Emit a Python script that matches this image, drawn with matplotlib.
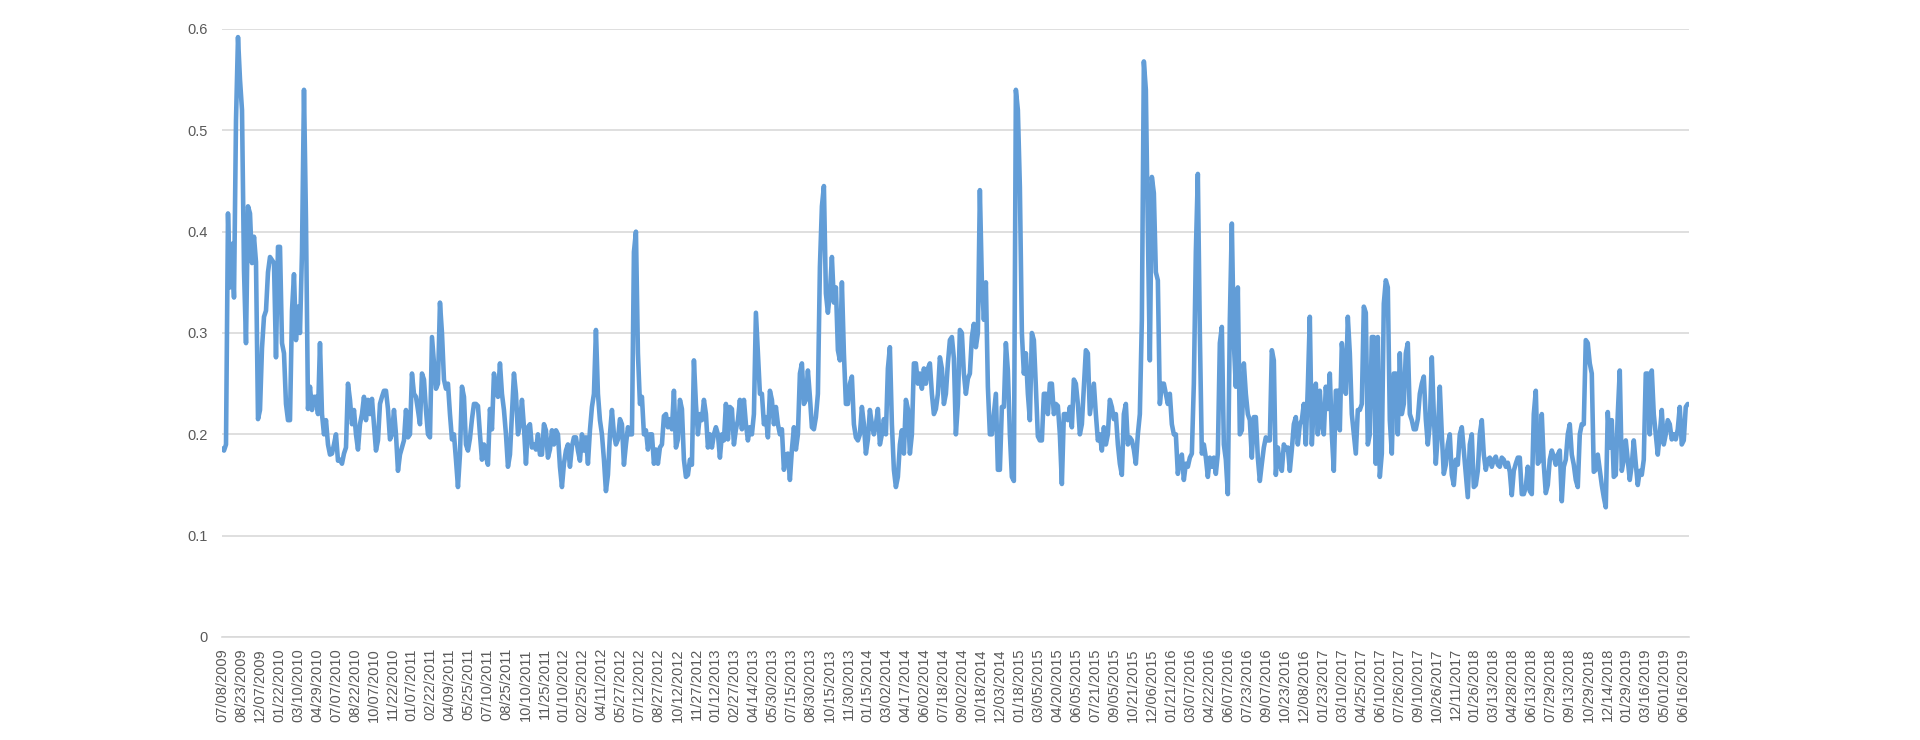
import numpy as np
import matplotlib
matplotlib.use("Agg")
import matplotlib.pyplot as plt

# category labels shown on the x axis (every 46th row of the sheet)
dates = [
    "07/08/2009", "08/23/2009", "12/07/2009", "01/22/2010", "03/10/2010", "04/29/2010",
    "07/07/2010", "08/22/2010", "10/07/2010", "11/22/2010", "01/07/2011", "02/22/2011",
    "04/09/2011", "05/25/2011", "07/10/2011", "08/25/2011", "10/10/2011", "11/25/2011",
    "01/10/2012", "02/25/2012", "04/11/2012", "05/27/2012", "07/12/2012", "08/27/2012",
    "10/12/2012", "11/27/2012", "01/12/2013", "02/27/2013", "04/14/2013", "05/30/2013",
    "07/15/2013", "08/30/2013", "10/15/2013", "11/30/2013", "01/15/2014", "03/02/2014",
    "04/17/2014", "06/02/2014", "07/18/2014", "09/02/2014", "10/18/2014", "12/03/2014",
    "01/18/2015", "03/05/2015", "04/20/2015", "06/05/2015", "07/21/2015", "09/05/2015",
    "10/21/2015", "12/06/2015", "01/21/2016", "03/07/2016", "04/22/2016", "06/07/2016",
    "07/23/2016", "09/07/2016", "10/23/2016", "12/08/2016", "01/23/2017", "03/10/2017",
    "04/25/2017", "06/10/2017", "07/26/2017", "09/10/2017", "10/26/2017", "12/11/2017",
    "01/26/2018", "03/13/2018", "04/28/2018", "06/13/2018", "07/29/2018", "09/13/2018",
    "10/29/2018", "12/14/2018", "01/29/2019", "03/16/2019", "05/01/2019", "06/16/2019",
]
label_step = 46
n_rows = 3556

# values, roughly every 4.8 rows
vol_2009 = [
    0.186, 0.184, 0.19, 0.418, 0.345, 0.388, 0.335, 0.51, 0.592, 0.55,
    0.52, 0.362, 0.29, 0.425, 0.418, 0.369, 0.395, 0.37, 0.215, 0.224,
    0.285, 0.316, 0.322, 0.36, 0.375, 0.372, 0.369, 0.276, 0.385, 0.385,
    0.29, 0.28, 0.23, 0.214, 0.214, 0.322, 0.358, 0.293, 0.326, 0.3,
    0.38, 0.54, 0.411, 0.225, 0.247, 0.224, 0.237, 0.237, 0.22, 0.29,
    0.22, 0.2, 0.214, 0.19, 0.18, 0.181, 0.19, 0.2, 0.174, 0.175,
    0.171, 0.181, 0.187, 0.25, 0.234, 0.21, 0.224, 0.2, 0.185, 0.21,
    0.22, 0.237, 0.214, 0.234, 0.22, 0.235, 0.21, 0.184, 0.194, 0.23,
    0.237, 0.243, 0.243, 0.225, 0.195, 0.2, 0.224, 0.2, 0.164, 0.18,
    0.187, 0.194, 0.224, 0.197, 0.2, 0.26, 0.24, 0.237, 0.224, 0.21,
    0.26, 0.254, 0.224, 0.2, 0.197,
]
vol_2011 = [
    0.296, 0.27, 0.245, 0.25, 0.33, 0.3, 0.254, 0.245, 0.25, 0.22,
    0.195, 0.2, 0.175, 0.148, 0.18, 0.247, 0.237, 0.19, 0.184, 0.196,
    0.215, 0.23, 0.23, 0.228, 0.2, 0.175, 0.19, 0.178, 0.17, 0.225,
    0.205, 0.26, 0.245, 0.237, 0.27, 0.24, 0.224, 0.2, 0.168, 0.18,
    0.22, 0.26, 0.24, 0.2, 0.21, 0.234, 0.207, 0.171, 0.207, 0.21,
    0.187, 0.19, 0.185, 0.2, 0.18, 0.18, 0.21, 0.204, 0.177, 0.185,
    0.204, 0.19, 0.204, 0.2, 0.168, 0.148, 0.171, 0.184, 0.19, 0.168,
    0.188, 0.197, 0.197, 0.184, 0.174, 0.2, 0.184, 0.197, 0.171, 0.204,
    0.227, 0.24, 0.303, 0.24, 0.214, 0.2, 0.175, 0.144, 0.16, 0.2,
    0.224, 0.2, 0.19, 0.195, 0.215, 0.21, 0.17, 0.19, 0.207, 0.2,
    0.2, 0.38, 0.4, 0.28, 0.23,
]
vol_2012 = [
    0.237, 0.2, 0.204, 0.185, 0.2, 0.2, 0.171, 0.185, 0.171, 0.187,
    0.19, 0.218, 0.22, 0.207, 0.215, 0.205, 0.243, 0.187, 0.195, 0.234,
    0.225, 0.175, 0.158, 0.16, 0.175, 0.17, 0.273, 0.23, 0.2, 0.22,
    0.214, 0.234, 0.22, 0.187, 0.2, 0.187, 0.2, 0.207, 0.2, 0.177,
    0.2, 0.194, 0.23, 0.195, 0.227, 0.225, 0.19, 0.205, 0.214, 0.234,
    0.205, 0.234, 0.21, 0.194, 0.207, 0.2, 0.22, 0.32, 0.28, 0.24,
    0.24, 0.21, 0.217, 0.197, 0.243, 0.234, 0.21, 0.227, 0.21, 0.2,
    0.205, 0.165, 0.18, 0.181, 0.155, 0.185, 0.207, 0.185, 0.2, 0.26,
    0.27, 0.23, 0.234, 0.263, 0.237, 0.207, 0.205, 0.217, 0.24, 0.365,
    0.425, 0.445, 0.339, 0.32, 0.34, 0.375, 0.33, 0.345, 0.283, 0.273,
    0.35, 0.28, 0.23, 0.23, 0.25,
]
vol_2014 = [
    0.257, 0.21, 0.197, 0.194, 0.2, 0.227, 0.21, 0.181, 0.195, 0.224,
    0.21, 0.2, 0.21, 0.225, 0.19, 0.2, 0.215, 0.2, 0.265, 0.286,
    0.21, 0.165, 0.148, 0.158, 0.19, 0.204, 0.181, 0.234, 0.225, 0.181,
    0.2, 0.27, 0.27, 0.25, 0.26, 0.245, 0.265, 0.25, 0.265, 0.27,
    0.24, 0.22, 0.225, 0.24, 0.276, 0.265, 0.23, 0.24, 0.27, 0.293,
    0.296, 0.275, 0.2, 0.23, 0.303, 0.3, 0.26, 0.24, 0.255, 0.26,
    0.296, 0.309, 0.286, 0.3, 0.441, 0.35, 0.313, 0.35, 0.247, 0.2,
    0.2, 0.22, 0.24, 0.165, 0.165, 0.227, 0.227, 0.29, 0.263, 0.2,
    0.158, 0.154, 0.54, 0.52, 0.444, 0.3, 0.26, 0.28, 0.24, 0.214,
    0.3, 0.293, 0.247, 0.198, 0.194, 0.194, 0.24, 0.24, 0.22, 0.25,
    0.25, 0.22, 0.23, 0.228, 0.2,
]
vol_2015 = [
    0.151, 0.22, 0.22, 0.214, 0.227, 0.207, 0.254, 0.25, 0.23, 0.2,
    0.21, 0.247, 0.283, 0.28, 0.22, 0.235, 0.25, 0.22, 0.194, 0.2,
    0.184, 0.207, 0.19, 0.2, 0.234, 0.227, 0.215, 0.22, 0.19, 0.171,
    0.16, 0.22, 0.23, 0.19, 0.197, 0.194, 0.185, 0.171, 0.2, 0.22,
    0.313, 0.568, 0.54, 0.4, 0.273, 0.454, 0.438, 0.36, 0.352, 0.23,
    0.25, 0.25, 0.24, 0.23, 0.24, 0.21, 0.2, 0.2, 0.161, 0.175,
    0.18, 0.155, 0.171, 0.168, 0.177, 0.181, 0.25, 0.38, 0.457, 0.3,
    0.181, 0.19, 0.177, 0.158, 0.177, 0.168, 0.177, 0.161, 0.181, 0.29,
    0.306, 0.19, 0.175, 0.141, 0.313, 0.408, 0.29, 0.247, 0.345, 0.2,
    0.204, 0.27, 0.24, 0.22, 0.214, 0.177, 0.217, 0.217, 0.177, 0.154,
    0.171, 0.187, 0.197, 0.194, 0.194,
]
vol_2016 = [
    0.283, 0.273, 0.16, 0.187, 0.17, 0.164, 0.19, 0.185, 0.187, 0.164,
    0.185, 0.21, 0.217, 0.19, 0.21, 0.214, 0.23, 0.19, 0.247, 0.316,
    0.19, 0.23, 0.25, 0.2, 0.243, 0.21, 0.2, 0.247, 0.225, 0.26,
    0.2, 0.164, 0.243, 0.243, 0.204, 0.29, 0.27, 0.24, 0.316, 0.28,
    0.22, 0.2, 0.181, 0.224, 0.224, 0.23, 0.326, 0.32, 0.19, 0.2,
    0.296, 0.296, 0.171, 0.296, 0.158, 0.181, 0.329, 0.352, 0.345, 0.214,
    0.181, 0.26, 0.26, 0.2, 0.28, 0.22, 0.23, 0.28, 0.29, 0.22,
    0.214, 0.205, 0.205, 0.215, 0.24, 0.25, 0.257, 0.215, 0.19, 0.21,
    0.276, 0.22, 0.171, 0.2, 0.247, 0.2, 0.161, 0.17, 0.19, 0.2,
    0.16, 0.15, 0.175, 0.17, 0.2, 0.207, 0.184, 0.161, 0.138, 0.19,
    0.2, 0.148, 0.15, 0.164, 0.2,
]
vol_2018 = [
    0.214, 0.18, 0.165, 0.175, 0.177, 0.168, 0.175, 0.178, 0.17, 0.168,
    0.177, 0.175, 0.168, 0.172, 0.163, 0.14, 0.164, 0.171, 0.177, 0.177,
    0.141, 0.141, 0.148, 0.168, 0.144, 0.141, 0.22, 0.243, 0.171, 0.174,
    0.22, 0.17, 0.142, 0.15, 0.175, 0.184, 0.178, 0.17, 0.18, 0.184,
    0.134, 0.168, 0.175, 0.2, 0.21, 0.18, 0.17, 0.155, 0.148, 0.2,
    0.21, 0.21, 0.293, 0.29, 0.27, 0.26, 0.163, 0.165, 0.18, 0.165,
    0.15, 0.138, 0.128, 0.222, 0.187, 0.214, 0.158, 0.16, 0.22, 0.263,
    0.164, 0.175, 0.194, 0.175, 0.155, 0.17, 0.194, 0.171, 0.15, 0.164,
    0.16, 0.175, 0.26, 0.26, 0.2, 0.263, 0.22, 0.2, 0.18, 0.2,
    0.224, 0.19, 0.2, 0.214, 0.21, 0.195, 0.2, 0.195, 0.205, 0.227,
    0.19, 0.194, 0.227, 0.23,
]


def main():
    vol = np.array(vol_2009 + vol_2011 + vol_2012 + vol_2014
                   + vol_2015 + vol_2016 + vol_2018)
    rows = np.linspace(0, n_rows - 4, len(vol))

    plt.rcParams['font.family'] = ['Liberation Sans', 'DejaVu Sans']
    fig = plt.figure(figsize=(19.2, 7.4), dpi=100)
    ax = fig.add_axes([222 / 1920, 103 / 740, 1467 / 1920, 608 / 740])

    ax.plot(rows, vol, color='#629dd7', lw=3.3,
            solid_joinstyle='round', solid_capstyle='round')

    ax.set_xlim(0, n_rows - 1)
    ax.set_ylim(0, 0.6)
    ax.set_yticks(np.arange(0, 0.61, 0.1))
    ax.set_yticklabels(['0', '0.1', '0.2', '0.3', '0.4', '0.5', '0.6'])
    ax.set_xticks(np.arange(len(dates)) * label_step)
    ax.set_xticklabels(dates, rotation=90)

    ax.grid(axis='y', color='#d9d9d9', lw=1.2)
    ax.set_axisbelow(True)
    for s in ['top', 'right', 'left']:
        ax.spines[s].set_visible(False)
    ax.spines['bottom'].set_color('#d9d9d9')
    ax.spines['bottom'].set_linewidth(1.2)
    ax.tick_params(axis='both', length=0, colors='#595959', labelsize=10.5)
    ax.tick_params(axis='y', pad=10)
    ax.tick_params(axis='x', pad=8)

    fig.savefig('out.png', dpi=100)


if __name__ == "__main__":
    main()
